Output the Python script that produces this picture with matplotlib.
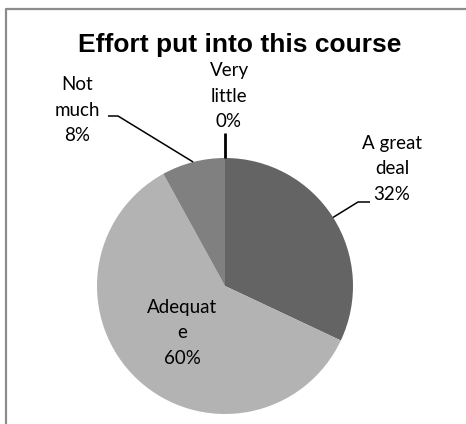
import numpy as np
import matplotlib
matplotlib.use("Agg")
import matplotlib.pyplot as plt

title = "Effort put into this course"
categories = ["A great\ndeal", "Adequat\ne", "Not\nmuch", "Very\nlittle"]
shares = [32, 60, 8, 0]
colors = ["#646464", "#b3b3b3", "#808080", "#808080"]

W, H = 466, 424
fig = plt.figure(figsize=(W / 100, H / 100), dpi=100)
ax = fig.add_axes([0, 0, 1, 1])

# frame of the chart area (only top and left edges are visible)
ax.plot([6, 6, W], [0, H - 9, H - 9], color="#8c8c8c", lw=1.6, solid_capstyle="butt")

cx, cy, r = 225, H - 286, 128
wedges, _ = ax.pie(shares, colors=colors, startangle=90, counterclock=False,
                   center=(cx, cy), radius=r, frame=True,
                   wedgeprops=dict(linewidth=0))
ax.set_xlim(0, W)
ax.set_ylim(0, H)
ax.set_aspect("equal")
ax.axis("off")

ax.text(240, H - 45, title, ha="center", va="center", fontsize=19,
        fontweight="bold", family="Liberation Sans")

lab_font = dict(family="Lato", fontsize=13.5, linespacing=1.6, ha="center", va="center")

def edge_point(w):
    ang = np.deg2rad((w.theta1 + w.theta2) / 2)
    return cx + r * np.cos(ang), cy + r * np.sin(ang)

# label positions (pixels from top-left) and leader elbow points
label_pos = [(392, 169), (182, 333), (77, 110), (229, 96)]
elbows = [[(370, 202), (358, 202)], None, [(108, 116), (118, 116)], [(225, 133)]]

for w, name, pct, pos, elb in zip(wedges, categories, shares, label_pos, elbows):
    ax.text(pos[0], H - pos[1], f"{name}\n{pct}%", **lab_font)
    if elb is None:
        continue
    ex, ey = edge_point(w)
    xs = [p[0] for p in elb] + [ex]
    ys = [H - p[1] for p in elb] + [ey]
    ax.plot(xs, ys, color="black", lw=2.0 if pct == 0 else 1.1, solid_capstyle="butt")

fig.savefig("out.png", dpi=100)
